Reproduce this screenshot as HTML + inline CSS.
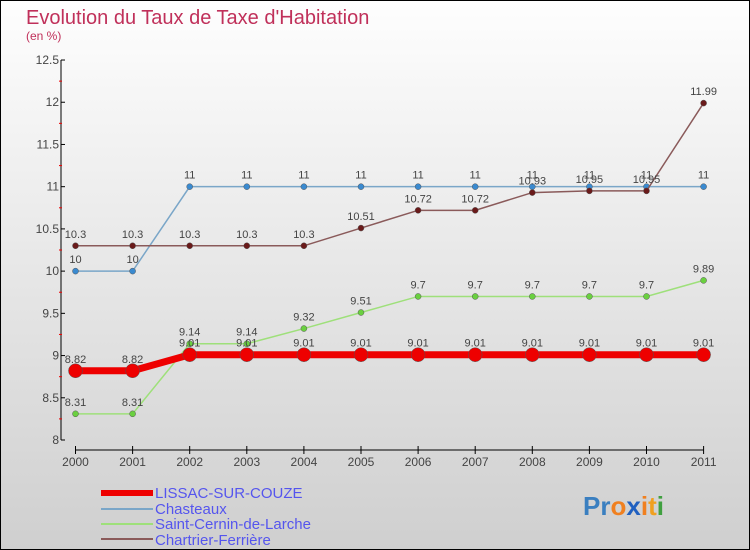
<!DOCTYPE html>
<html><head><meta charset="utf-8"><style>
body{margin:0}
svg{display:block;font-family:"Liberation Sans",sans-serif}
</style></head><body>
<svg id="c" width="750" height="550" viewBox="0 0 750 550">
<defs><linearGradient id="bg" x1="0" y1="0" x2="0" y2="1"><stop offset="0" stop-color="#fefefe"/><stop offset="1" stop-color="#cfcfcf"/></linearGradient></defs>
<rect x="0.5" y="0.5" width="749" height="549" fill="url(#bg)" stroke="#000"/>
<text x="26" y="24" font-size="20" fill="#c0305a">Evolution du Taux de Taxe d'Habitation</text>
<text x="26" y="40" font-size="12" fill="#c0305a">(en %)</text>
<g id="axes"></g><g id="series"></g>
<g>
<rect x="101" y="490" width="52" height="6" fill="#e00"/>
<text x="155" y="498" font-size="15" fill="#5555ee">LISSAC-SUR-COUZE</text>
<rect x="101" y="508" width="52" height="2" fill="#7aa6c8"/>
<text x="155" y="514" font-size="15" fill="#5555ee">Chasteaux</text>
<rect x="101" y="523" width="52" height="2" fill="#9ee07a"/>
<text x="155" y="529" font-size="15" fill="#5555ee">Saint-Cernin-de-Larche</text>
<rect x="101" y="538" width="52" height="2" fill="#8a5a5a"/>
<text x="155" y="545" font-size="15" fill="#5555ee">Chartrier-Ferrière</text>
</g>
<g font-size="26" font-weight="bold">
<text x="583" y="515"><tspan fill="#3a7fc0">Pr</tspan><tspan fill="#f08020">o</tspan><tspan fill="#2060c0">x</tspan><tspan fill="#f08020">i</tspan><tspan fill="#f0a020">t</tspan><tspan fill="#40a040">i</tspan></text>
</g>
</svg>
<script>
const years=[2000,2001,2002,2003,2004,2005,2006,2007,2008,2009,2010,2011];
const yTicks=[8,8.5,9,9.5,10,10.5,11,11.5,12,12.5];
const lissac=[8.82,8.82,9.01,9.01,9.01,9.01,9.01,9.01,9.01,9.01,9.01,9.01];
const chasteaux=[10,10,11,11,11,11,11,11,11,11,11,11];
const stCernin=[8.31,8.31,9.14,9.14,9.32,9.51,9.7,9.7,9.7,9.7,9.7,9.89];
const chartrier=[10.3,10.3,10.3,10.3,10.3,10.51,10.72,10.72,10.93,10.95,10.95,11.99];
const NS='http://www.w3.org/2000/svg';
const X=i=>75.5+i*57.1;
const Y=v=>440-(v-8)*84.44;
function mk(t,a,p){const e=document.createElementNS(NS,t);for(const k in a)e.setAttribute(k,a[k]);p.appendChild(e);return e;}
const ax=document.getElementById('axes'),sg=document.getElementById('series');
let e=mk('line',{x1:61,y1:Y(12.5),x2:61,y2:440,stroke:'#000'},ax);


e=mk('line',{x1:X(0),y1:450,x2:X(11),y2:450,stroke:'#000'},ax);


yTicks.forEach((v,i)=>{
 mk('line',{x1:61,y1:Y(v),x2:65,y2:Y(v),stroke:'#000'},ax);
 if(i<yTicks.length-1)mk('line',{x1:59,y1:Y(v+0.25),x2:62,y2:Y(v+0.25),stroke:'#e00'},ax);
 const t=mk('text',{x:59,y:Y(v)+4,'font-size':12,fill:'#444','text-anchor':'end'},ax);t.textContent=String(v);
 
 
});
years.forEach((y,i)=>{
 mk('line',{x1:X(i),y1:446,x2:X(i),y2:454,stroke:'#000'},ax);
 const t=mk('text',{x:X(i),y:466,'font-size':12,fill:'#444','text-anchor':'middle'},ax);t.textContent=y;
 
 
});
function series(vals,color,dot,w,r,name){
 const g=mk('g',{},sg);
 
 
 mk('polyline',{points:vals.map((v,i)=>X(i)+','+Y(v)).join(' '),fill:'none',stroke:color,'stroke-width':w},g);
 vals.forEach((v,i)=>{
  const c=mk('circle',{cx:X(i),cy:Y(v),r:r,fill:dot,stroke:'#555','stroke-width':0.5},g);
  
  
  const t=mk('text',{x:X(i),y:Y(v)-8,'font-size':11,fill:'#444','text-anchor':'middle'},g);
  t.textContent=String(v);
  
  
 });
}
series(chasteaux,'#7aa6c8','#3a8ad0',1.5,3,'series-chasteaux');
series(chartrier,'#8a5a5a','#6a1a1a',1.5,3,'series-chartrier');
series(stCernin,'#9ee07a','#6ad040',1.5,3,'series-saint-cernin');
series(lissac,'#e00','#e00',7,7,'series-lissac');
</script>
</body></html>
